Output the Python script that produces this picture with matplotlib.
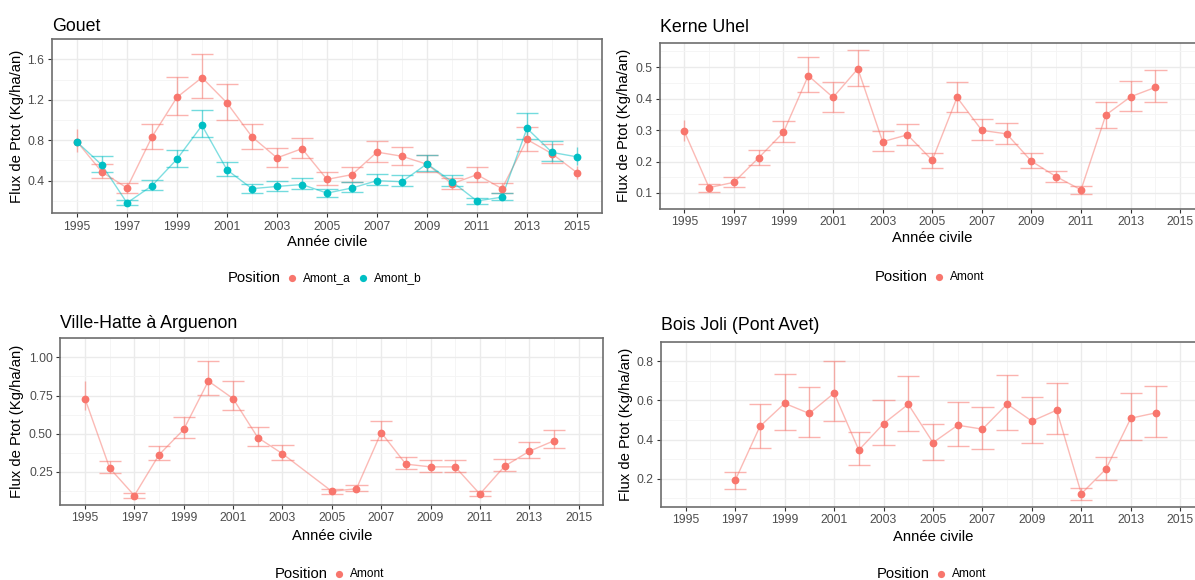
import matplotlib
matplotlib.use("Agg")
import matplotlib.pyplot as plt
from matplotlib.lines import Line2D
import numpy as np

plt.rcParams['font.family'] = ['Liberation Sans', 'DejaVu Sans']

# ---------------- data ----------------
# Gouet - Amont_a
gouet_a_years = list(range(1995, 2016))
gouet_a_val = [0.786, 0.485, 0.328, 0.834, 1.226, 1.421, 1.170, 0.834, 0.626, 0.717, 0.413,
               0.460, 0.683, 0.642, 0.563, 0.369, 0.460, 0.321, 0.808, 0.667, 0.479]
gouet_a_lo = [0.683, 0.422, 0.281, 0.714, 1.053, 1.217, 1.003, 0.714, 0.535, 0.620, 0.360,
              0.384, 0.585, 0.551, 0.488, 0.315, 0.390, 0.274, 0.692, 0.579, 0.416]
gouet_a_hi = [0.909, 0.563, 0.375, 0.962, 1.427, 1.654, 1.355, 0.962, 0.720, 0.827, 0.482,
              0.538, 0.796, 0.736, 0.651, 0.422, 0.538, 0.375, 0.928, 0.764, 0.541]

# Gouet - Amont_b
gouet_b_years = list(range(1995, 2016))
gouet_b_val = [0.783, 0.554, 0.180, 0.350, 0.614, 0.947, 0.507, 0.321, 0.343, 0.362, 0.277,
               0.328, 0.400, 0.390, 0.567, 0.390, 0.199, 0.237, 0.918, 0.680, 0.636]
gouet_b_lo = [0.765, 0.488, 0.155, 0.306, 0.538, 0.837, 0.444, 0.277, 0.300, 0.315, 0.243,
              0.290, 0.353, 0.347, 0.494, 0.343, 0.174, 0.208, 0.815, 0.595, 0.557]
gouet_b_hi = [0.800, 0.645, 0.208, 0.406, 0.708, 1.104, 0.589, 0.372, 0.400, 0.422, 0.318,
              0.384, 0.469, 0.457, 0.654, 0.457, 0.227, 0.274, 1.072, 0.793, 0.736]

# Kerne Uhel - Amont
kerne_years = list(range(1995, 2015))
kerne_val = [0.296, 0.117, 0.134, 0.212, 0.293, 0.473, 0.404, 0.495, 0.263, 0.285,
             0.204, 0.404, 0.299, 0.288, 0.201, 0.152, 0.110, 0.348, 0.406, 0.436]
kerne_lo = [0.264, 0.102, 0.118, 0.189, 0.261, 0.421, 0.359, 0.440, 0.235, 0.254,
            0.181, 0.358, 0.267, 0.256, 0.180, 0.134, 0.097, 0.308, 0.361, 0.390]
kerne_hi = [0.333, 0.129, 0.150, 0.238, 0.329, 0.531, 0.452, 0.555, 0.296, 0.320,
            0.228, 0.452, 0.335, 0.323, 0.227, 0.170, 0.123, 0.390, 0.457, 0.492]

# Ville-Hatte à Arguenon - Amont (no 2004)
ville_years = [1995, 1996, 1997, 1998, 1999, 2000, 2001, 2002, 2003, 2005, 2006, 2007,
               2008, 2009, 2010, 2011, 2012, 2013, 2014]
ville_val = [0.730, 0.275, 0.095, 0.362, 0.528, 0.845, 0.730, 0.475, 0.369, 0.123, 0.140,
             0.508, 0.301, 0.283, 0.283, 0.105, 0.287, 0.385, 0.454]
ville_lo = [0.657, 0.244, 0.080, 0.326, 0.471, 0.755, 0.655, 0.420, 0.328, 0.105, 0.125,
            0.456, 0.266, 0.250, 0.250, 0.089, 0.254, 0.342, 0.407]
ville_hi = [0.845, 0.319, 0.109, 0.420, 0.608, 0.976, 0.845, 0.546, 0.426, 0.138, 0.162,
            0.585, 0.348, 0.330, 0.326, 0.123, 0.332, 0.444, 0.524]

# Bois Joli (Pont Avet) - Amont
bois_years = list(range(1997, 2015))
bois_val = [0.191, 0.467, 0.585, 0.533, 0.637, 0.346, 0.481, 0.580, 0.384, 0.473,
            0.453, 0.582, 0.494, 0.550, 0.123, 0.250, 0.509, 0.536]
bois_lo = [0.147, 0.359, 0.451, 0.415, 0.494, 0.268, 0.371, 0.445, 0.297, 0.365,
           0.352, 0.448, 0.384, 0.426, 0.092, 0.192, 0.395, 0.415]
bois_hi = [0.235, 0.583, 0.734, 0.671, 0.800, 0.436, 0.602, 0.725, 0.481, 0.593,
           0.568, 0.728, 0.618, 0.690, 0.150, 0.312, 0.638, 0.673]

x_ticks = list(range(1995, 2016, 2))
RED = '#F8766D'
CYAN = '#00BFC4'

# ---------------- layout ----------------
W, H = 1195, 580
fig = plt.figure(figsize=(W / 100, H / 100), dpi=100)


def px_axes(L, T, R, B):
    return fig.add_axes([L / W, 1 - B / H, (R - L) / W, (B - T) / H])


panels = [
    dict(title="Gouet", box=(52, 39.3, 602, 213), title_y=31, ylab_x=17.5, xlab_y=242,
         yticks=[0.4, 0.8, 1.2, 1.6], yfmt="{:.1f}",
         series=[("Amont_a", RED, gouet_a_years, gouet_a_val, gouet_a_lo, gouet_a_hi),
                 ("Amont_b", CYAN, gouet_b_years, gouet_b_val, gouet_b_lo, gouet_b_hi)],
         legend_y=278, legend_x=228),
    dict(title="Kerne Uhel", box=(659.5, 42.7, 1205, 208.7), title_y=32, ylab_x=624, xlab_y=238,
         yticks=[0.1, 0.2, 0.3, 0.4, 0.5], yfmt="{:.1f}",
         series=[("Amont", RED, kerne_years, kerne_val, kerne_lo, kerne_hi)],
         legend_y=277, legend_x=875),
    dict(title="Ville-Hatte à Arguenon", box=(60.3, 338.3, 603.3, 504.7), title_y=327.5, ylab_x=17.5,
         xlab_y=536, yticks=[0.25, 0.50, 0.75, 1.00], yfmt="{:.2f}",
         series=[("Amont", RED, ville_years, ville_val, ville_lo, ville_hi)],
         legend_y=574, legend_x=275),
    dict(title="Bois Joli (Pont Avet)", box=(661, 341.7, 1205, 506.7), title_y=330, ylab_x=626,
         xlab_y=537, yticks=[0.2, 0.4, 0.6, 0.8], yfmt="{:.1f}",
         series=[("Amont", RED, bois_years, bois_val, bois_lo, bois_hi)],
         legend_y=574, legend_x=877),
]

XMIN, XMAX = 1995, 2015
CAP = 0.9

for p in panels:
    L, T, R, B = p["box"]
    ax = px_axes(L, T, R, B)
    ax.set_xlim(1994, 2016)
    lo_all = min(min(s[4]) for s in p["series"])
    hi_all = max(max(s[5]) for s in p["series"])
    rng = hi_all - lo_all
    ax.set_ylim(lo_all - 0.05 * rng, hi_all + 0.05 * rng)

    # grid
    ax.set_xticks(x_ticks)
    ax.set_xticks([y for y in range(1994, 2017) if y % 2 == 0], minor=True)
    yt = p["yticks"]
    step = yt[1] - yt[0]
    ymin_minor = [v - step / 2 for v in yt] + [yt[-1] + step / 2]
    ax.set_yticks(yt)
    ax.set_yticks(ymin_minor, minor=True)
    ax.set_yticklabels([p["yfmt"].format(v) for v in yt])
    ax.grid(True, which='major', color='#EBEBEB', linewidth=1.0, zorder=0)
    ax.grid(True, which='minor', color='#F4F4F4', linewidth=0.6, zorder=0)
    ax.set_axisbelow(True)
    ax.tick_params(which='minor', length=0)
    ax.tick_params(which='major', length=2.8, width=0.8, color='#333333', pad=2.6,
                   labelsize=8.8, labelcolor='#4D4D4D')
    for sp in ax.spines.values():
        sp.set_color('#6E6E6E')
        sp.set_linewidth(1.2)

    for name, col, yrs, val, lo, hi in p["series"]:
        yrs = np.array(yrs, dtype=float)
        ax.plot(yrs, val, color=col, alpha=0.5, linewidth=1.0, zorder=2)
        ax.vlines(yrs, lo, hi, color=col, alpha=0.55, linewidth=1.0, zorder=2)
        inside = (yrs - CAP / 2 >= XMIN) & (yrs + CAP / 2 <= XMAX)
        for x, l, h, ok in zip(yrs, lo, hi, inside):
            if ok:
                ax.hlines([l, h], x - CAP / 2, x + CAP / 2, color=col, alpha=0.55,
                          linewidth=1.0, zorder=2)
        ax.plot(yrs, val, linestyle='none', marker='o', markersize=5.6, color=col,
                markeredgewidth=0, zorder=3)

    # texts
    fig.text(L / W, 1 - p["title_y"] / H, p["title"], fontsize=12.8, ha='left',
             va='baseline', color='black')
    ax.set_ylabel("Flux de Ptot (Kg/ha/an)", fontsize=10.7, color='black')
    ax.yaxis.set_label_coords((p["ylab_x"] - L) / (R - L), 0.5)
    ax.set_xlabel("Année civile", fontsize=10.7, color='black')
    ax.xaxis.set_label_coords(((L + R) / 2 - L) / (R - L), -(p["xlab_y"] - B) / (B - T))
    ax.xaxis.label.set_verticalalignment('center')
    ax.yaxis.label.set_verticalalignment('center')

    # legend (title on the left, ggplot-style)
    lx = p["legend_x"]
    ly = 1 - p["legend_y"] / H
    t = fig.text(lx / W, ly, "Position", fontsize=10.7, ha='left', va='center')
    fig.canvas.draw()
    bb = t.get_window_extent()
    x = bb.x1 + 11
    for name, col, *_ in p["series"]:
        fig.add_artist(Line2D([x / W], [ly], transform=fig.transFigure, marker='o',
                              markersize=5.2, color=col, markeredgewidth=0, linestyle='none'))
        tt = fig.text((x + 11) / W, ly, name, fontsize=8.6, ha='left', va='center')
        fig.canvas.draw()
        x = tt.get_window_extent().x1 + 12

fig.savefig("out.png", dpi=100)
